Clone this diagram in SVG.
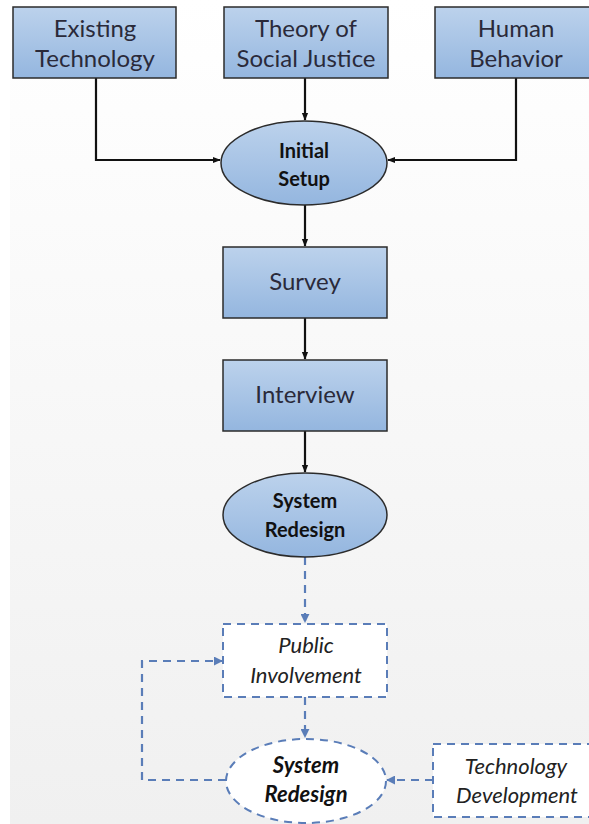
<svg xmlns="http://www.w3.org/2000/svg" width="589" height="824" viewBox="0 0 589 824">
<defs>
<linearGradient id="bg" x1="0" y1="0" x2="0" y2="1">
<stop offset="0" stop-color="#ffffff"/>
<stop offset="1" stop-color="#f0f0f0"/>
</linearGradient>
<linearGradient id="blue" x1="0" y1="0" x2="0" y2="1">
<stop offset="0" stop-color="#bcd2ec"/>
<stop offset="1" stop-color="#94b6df"/>
</linearGradient>
<marker id="ah" viewBox="0 0 10 10" refX="9" refY="5" markerWidth="8" markerHeight="8" orient="auto" markerUnits="userSpaceOnUse">
<path d="M0,1 L10,5 L0,9 z" fill="#111"/>
</marker>
<marker id="ahd" viewBox="0 0 10 10" refX="9" refY="5" markerWidth="9" markerHeight="9" orient="auto" markerUnits="userSpaceOnUse">
<path d="M0,0 L10,5 L0,10 z" fill="#5a7db8"/>
</marker>
<style>
.box{fill:url(#blue);stroke:#2b2b2b;stroke-width:1.5}
.ell{fill:url(#blue);stroke:#2b2b2b;stroke-width:1.5}
.dbox{fill:#ffffff;stroke:#5a7db8;stroke-width:2;stroke-dasharray:8,6}
.t{font-family:Lato,"Open Sans",sans-serif;font-size:24px;fill:#2a2a3a;text-anchor:middle}
.tb{font-family:Lato,"Open Sans",sans-serif;font-size:20px;font-weight:bold;fill:#111;text-anchor:middle}
.ti{font-family:Lato,"Open Sans",sans-serif;font-size:22px;font-style:italic;fill:#222;text-anchor:middle}
.tbi{font-family:Lato,"Open Sans",sans-serif;font-size:22px;font-style:italic;font-weight:bold;fill:#111;text-anchor:middle}
.c{fill:none;stroke:#111;stroke-width:2.2}
.cd{fill:none;stroke:#5a7db8;stroke-width:2.2;stroke-dasharray:8,6}
</style>
</defs>
<rect x="0" y="0" width="589" height="824" fill="#ffffff"/>
<rect x="10" y="0" width="579" height="824" fill="url(#bg)"/>

<g id="connectors">
<path class="c" d="M96,78 V160 H220" marker-end="url(#ah)"/>
<path class="c" d="M305,78 V120" marker-end="url(#ah)"/>
<path class="c" d="M516,78 V160 H388" marker-end="url(#ah)"/>
<path class="c" d="M305,205 V246" marker-end="url(#ah)"/>
<path class="c" d="M305,318 V359" marker-end="url(#ah)"/>
<path class="c" d="M305,431 V472" marker-end="url(#ah)"/>
<path class="cd" d="M305,557 V622" marker-end="url(#ahd)"/>
<path class="cd" d="M305,697 V737" marker-end="url(#ahd)"/>
<path class="cd" d="M226,780 H142 V661 H222" marker-end="url(#ahd)"/>
<path class="cd" d="M433,780 H387" marker-end="url(#ahd)"/>
</g>

<g id="existing-technology">
<rect class="box" x="13" y="7" width="163" height="71"/>
<text class="t" x="95" y="37">Existing</text>
<text class="t" x="95" y="67">Technology</text>
</g>
<g id="theory-social-justice">
<rect class="box" x="224" y="7" width="164" height="71"/>
<text class="t" x="306" y="37">Theory of</text>
<text class="t" x="306" y="67">Social Justice</text>
</g>
<g id="human-behavior">
<rect class="box" x="435" y="7" width="160" height="71"/>
<text class="t" x="516" y="37">Human</text>
<text class="t" x="516" y="67">Behavior</text>
</g>
<g id="initial-setup">
<ellipse class="ell" cx="304" cy="163" rx="83" ry="42"/>
<text class="tb" x="304" y="158">Initial</text>
<text class="tb" x="304" y="186">Setup</text>
</g>
<g id="survey">
<rect class="box" x="223" y="247" width="164" height="71"/>
<text class="t" x="305" y="290">Survey</text>
</g>
<g id="interview">
<rect class="box" x="223" y="360" width="164" height="71"/>
<text class="t" x="305" y="403">Interview</text>
</g>
<g id="system-redesign-1">
<ellipse class="ell" cx="305" cy="515" rx="82" ry="42"/>
<text class="tb" x="305" y="508">System</text>
<text class="tb" x="305" y="537">Redesign</text>
</g>
<g id="public-involvement">
<rect class="dbox" x="223" y="624" width="164" height="73"/>
<text class="ti" x="306" y="653">Public</text>
<text class="ti" x="306" y="683">Involvement</text>
</g>
<g id="system-redesign-2">
<ellipse class="dbox" cx="306" cy="781" rx="80" ry="42"/>
<text class="tbi" x="306" y="773">System</text>
<text class="tbi" x="306" y="802">Redesign</text>
</g>
<g id="technology-development">
<rect class="dbox" x="433" y="744" width="164" height="73"/>
<text class="ti" x="516" y="774">Technology</text>
<text class="ti" x="517" y="803">Development</text>
</g>
</svg>
